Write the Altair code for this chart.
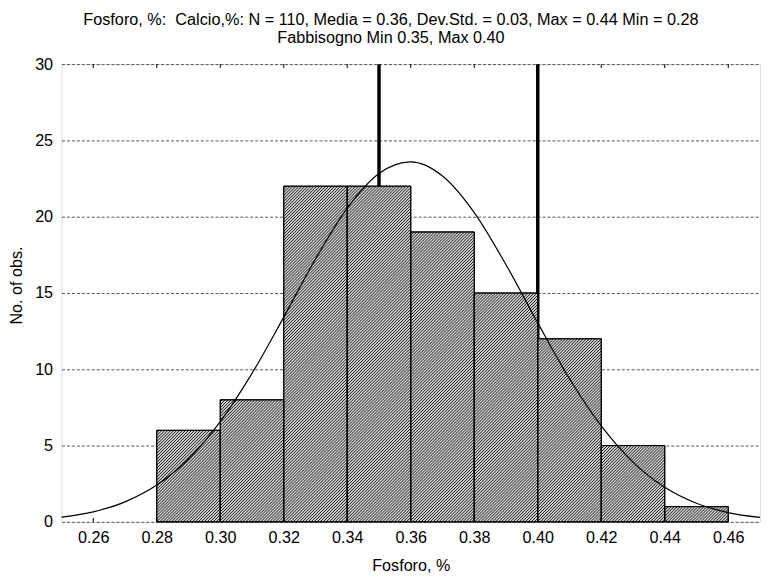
import altair as alt
import pandas as pd

# Histogram bins (Fosforo, %)
bin_start = [0.28, 0.30, 0.32, 0.34, 0.36, 0.38, 0.40, 0.42, 0.44]
bin_end = [0.30, 0.32, 0.34, 0.36, 0.38, 0.40, 0.42, 0.44, 0.46]
counts = [6, 8, 22, 22, 19, 15, 12, 5, 1]

# Fitted normal curve
curve_x = [0.25, 0.26, 0.27, 0.28, 0.29, 0.30, 0.31, 0.32, 0.33, 0.34, 0.35, 0.36,
           0.37, 0.38, 0.39, 0.40, 0.41, 0.42, 0.43, 0.44, 0.45, 0.46, 0.47]
curve_y = [0.31, 0.66, 1.31, 2.41, 4.12, 6.57, 9.73, 13.42, 17.23, 20.56, 22.83, 23.59,
           22.67, 20.27, 16.85, 13.04, 9.38, 6.29, 3.92, 2.27, 1.22, 0.61, 0.29]

# Requirement limits (Fabbisogno)
limits = [0.35, 0.40]

x_ticks = [0.26, 0.28, 0.30, 0.32, 0.34, 0.36, 0.38, 0.40, 0.42, 0.44, 0.46]
y_ticks = [0, 5, 10, 15, 20, 25, 30]

FONT = "Liberation Sans"
W, H = 705, 462
X_DOM = [0.25, 0.47]
Y_DOM = [0, 30]
HATCH_STEP = 3.0  # px between hatch lines (horizontal period)

bars_df = pd.DataFrame({"start": bin_start, "end": bin_end, "count": counts})
bars_df["base"] = 0
curve_df = pd.DataFrame({"x": curve_x, "y": curve_y})
lim_df = pd.DataFrame({"x": limits})
tick_df = pd.DataFrame({"x": x_ticks})


# Diagonal hatch ("///") inside each bar, built from the bin arrays
def to_px(v):
    return (v - X_DOM[0]) / (X_DOM[1] - X_DOM[0]) * W


def from_px(p):
    return X_DOM[0] + p / W * (X_DOM[1] - X_DOM[0])


def to_py(v):
    return v / (Y_DOM[1] - Y_DOM[0]) * H


def from_py(p):
    return p / H * (Y_DOM[1] - Y_DOM[0])


hatch_rows = []
for s, e, c in zip(bin_start, bin_end, counts):
    x0, x1, h = to_px(s), to_px(e), to_py(c)
    k = int((x0 - h) // HATCH_STEP)
    while k * HATCH_STEP <= x1:
        off = k * HATCH_STEP
        a = max(x0, off)
        b = min(x1, off + h)
        if b - a > 0.2:
            hatch_rows.append({"x": from_px(a), "y": from_py(a - off),
                               "x2": from_px(b), "y2": from_py(b - off)})
        k += 1
hatch_df = pd.DataFrame(hatch_rows)

xscale = alt.Scale(domain=X_DOM, nice=False, zero=False)
yscale = alt.Scale(domain=Y_DOM, nice=False)

xaxis = alt.Axis(values=x_ticks, format=".2f", grid=False, ticks=False, domain=False,
                 labelFontSize=16.3, labelFont=FONT, labelColor="black", labelPadding=8,
                 title="Fosforo, %", titleFont=FONT, titleFontSize=16.3,
                 titleFontWeight="normal", titleColor="black", titlePadding=12)
yaxis = alt.Axis(values=y_ticks, grid=True, gridColor="#555", gridDash=[3, 2], gridWidth=1,
                 ticks=False, domain=False, labelFontSize=16.3, labelFont=FONT,
                 labelColor="black", labelPadding=9,
                 title="No. of obs.", titleFont=FONT, titleFontSize=16.3,
                 titleFontWeight="normal", titleColor="black", titlePadding=10,
                 titleY=223)

limit_rules = alt.Chart(lim_df).mark_rule(color="black", strokeWidth=3.5).encode(
    x=alt.X("x:Q", scale=xscale, axis=xaxis)
)

bars = alt.Chart(bars_df).mark_bar(fill="#cfcfcf", stroke="black", strokeWidth=1).encode(
    x=alt.X("start:Q", scale=xscale, axis=xaxis),
    x2="end:Q",
    y=alt.Y("count:Q", scale=yscale, axis=yaxis),
    y2="base:Q",
)

hatch = alt.Chart(hatch_df).mark_rule(color="#111111", strokeWidth=0.95).encode(
    x=alt.X("x:Q", scale=xscale),
    y=alt.Y("y:Q", scale=yscale),
    x2="x2:Q",
    y2="y2:Q",
)

bar_outline = alt.Chart(bars_df).mark_bar(fillOpacity=0, stroke="black", strokeWidth=1).encode(
    x=alt.X("start:Q", scale=xscale),
    x2="end:Q",
    y=alt.Y("count:Q", scale=yscale),
    y2="base:Q",
)

curve = alt.Chart(curve_df).mark_line(color="black", strokeWidth=1.2, interpolate="monotone").encode(
    x=alt.X("x:Q", scale=xscale),
    y=alt.Y("y:Q", scale=yscale),
)

bottom_ticks = alt.Chart(tick_df).mark_rule(color="black", strokeWidth=1).encode(
    x=alt.X("x:Q", scale=xscale),
    y=alt.value(H - 4),
    y2=alt.value(H),
)
top_ticks = alt.Chart(tick_df).mark_rule(color="black", strokeWidth=1).encode(
    x=alt.X("x:Q", scale=xscale),
    y=alt.value(0),
    y2=alt.value(4),
)

chart = alt.layer(limit_rules, bars, hatch, bar_outline, curve, bottom_ticks, top_ticks).properties(
    width=W,
    height=H,
    title=alt.TitleParams(
        text=["Fosforo, %:\u00a0 Calcio,%: N = 110, Media = 0.36, Dev.Std. = 0.03, Max = 0.44 Min = 0.28",
              "Fabbisogno Min 0.35, Max 0.40"],
        font=FONT, fontSize=16.4, fontWeight="normal", color="black",
        lineHeight=18.5, anchor="middle", baseline="bottom", offset=12, dy=18, dx=-20,
    ),
    autosize=alt.AutoSizeParams(type="none"),
    padding={"left": 54, "top": 54, "right": 1, "bottom": 54},
).configure_view(
    stroke="black", strokeWidth=1.5
).configure(background="white")

chart.save("out.html", embed_options={"renderer": "svg", "actions": False})
